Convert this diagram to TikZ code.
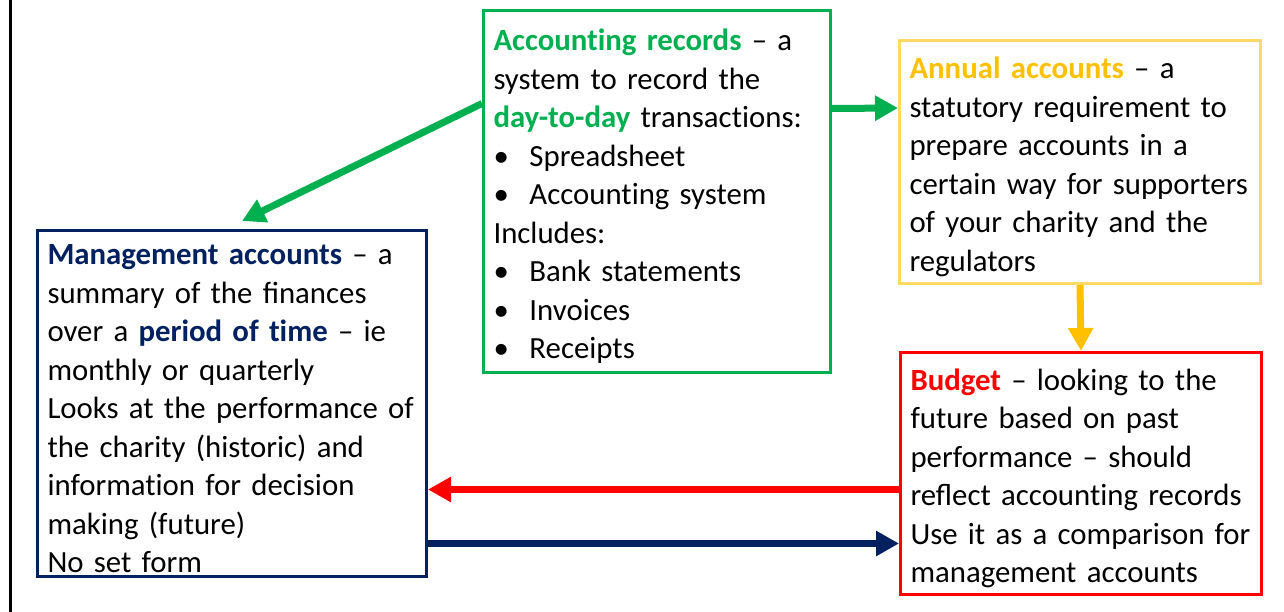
\documentclass[tikz,border=0pt]{standalone}
\usepackage{fontspec}
\setmainfont{Carlito}
\usetikzlibrary{arrows.meta, positioning, calc}
\definecolor{cGreen}{HTML}{00B050}
\definecolor{cGold}{HTML}{FFC000}
\definecolor{cPale}{HTML}{FFD966}
\definecolor{cRed}{HTML}{FF0000}
\definecolor{cNavy}{HTML}{002060}
\newcommand{\bul}{\makebox[36pt][l]{\textbullet}}
\newcommand{\nolig}{\kern0pt}

\begin{document}
\begin{tikzpicture}[x=1pt, y=-1pt,
    box/.style={draw, line width=3pt, anchor=north west, align=left, text width=#1,
      inner xsep=10pt, inner ysep=0pt, font=\fontsize{30.8}{38.5}\selectfont,
      execute at begin node={\rule{0pt}{31pt}}},
    link/.style={line width=7pt, -{Triangle[length=23pt,width=24pt]}}]
  \useasboundingbox (0,0) rectangle (1284,612);
  \draw[line width=2.5pt] (10.5,0) -- (10.5,612);

  \node[box=327pt, draw=cGreen, minimum height=362pt] (rec) at (482,9)
    {\textcolor{cGreen}{\textbf{Account\nolig{}ing records}} – a\\system to record the\\
     \textcolor{cGreen}{\textbf{day-to-day}} transact\nolig{}ions:\\\bul Spreadsheet\\
     \bul Account\nolig{}ing system\\Includes:\\\bul Bank statements\\\bul Invoices\\\bul Receipts};
  \node[box=341pt, draw=cPale, minimum height=243pt] (annual) at (898,39)
    {\textcolor{cGold}{\textbf{Annual accounts}} – a\\statutory requirement to\\
     prepare accounts in a\\certain way for supporters\\of your charity and the\\regulators};
  \node[box=369pt, draw=cNavy, minimum height=346pt] (mgmt) at (36,229)
    {\textcolor{cNavy}{\textbf{Management accounts}} – a\\summary of the finances\\
     over a \textcolor{cNavy}{\textbf{period of t\nolig{}ime}} – ie\\monthly or quarterly\\
     Looks at the performance of\\the charity (historic) and\\informat\nolig{}ion for decision\\
     making (future)\\No set form};
  \node[box=341pt, draw=cRed, minimum height=242pt] (budget) at (899,351)
    {\textcolor{cRed}{\textbf{Budget}} – looking to the\\future based on past\\
     performance – should\\reflect account\nolig{}ing records\\Use it as a comparison for\\
     management accounts};

  \coordinate (mgtop) at ([xshift=10pt,yshift=8pt]mgmt.north);
  \coordinate (bw) at ([yshift=-16pt]budget.west);
  \coordinate (me) at ([yshift=-140pt]mgmt.east);
  \draw[link, cGreen] ([yshift=88pt]rec.west) -- (mgtop);
  \draw[link, cGreen] ([yshift=83pt]rec.east) -- ([yshift=54pt]annual.west);
  \draw[link, cGold] (annual.south) -- (budget.north);
  \draw[link, cRed] (bw) -- (bw -| mgmt.east);
  \draw[link, cNavy] (me) -- (me -| budget.west);
\end{tikzpicture}
\end{document}
